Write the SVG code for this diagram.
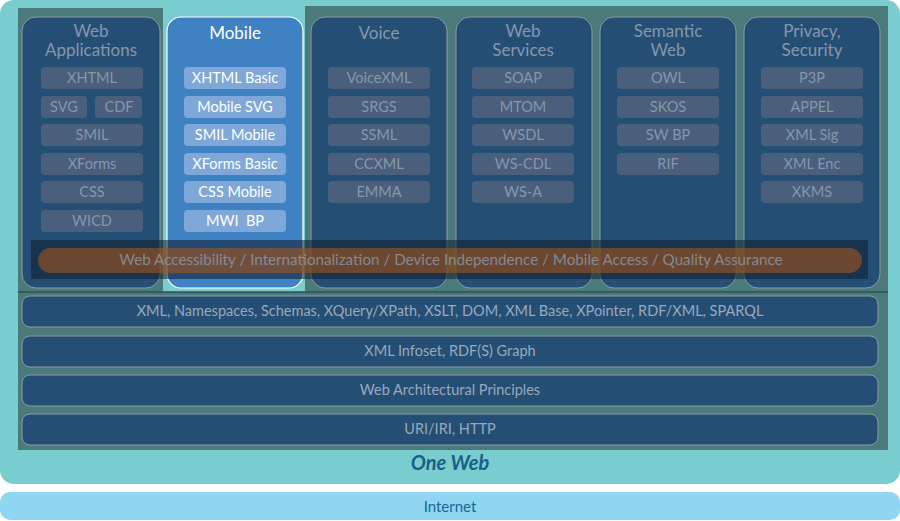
<svg xmlns="http://www.w3.org/2000/svg" width="900" height="521" viewBox="0 0 900 521">
<style>
text{font-family:Lato,"Open Sans","DejaVu Sans",sans-serif;text-anchor:middle}
.col{fill:#254e75;stroke:#8c9ca6;stroke-width:1}
.it{fill:#495f7c}
.it-t{fill:#8597ab;font-size:14.5px}
.mit{fill:#7fa7d8}
.mit-t{fill:#ffffff;font-size:14.5px}
.h{fill:#8597ab;font-size:17px}
.row{fill:#254e75;stroke:#8c9ca6;stroke-width:1}
.row-t{fill:#97a9bd;font-size:14.5px}
</style>
<rect x="0" y="0" width="900" height="484" rx="14" fill="#79cdce"/>
<path d="M18 8H163V292H305V6H888V450H18Z" fill="#4a7b7a"/>
<g id="col-webapps"><rect class="col" x="22" y="17" width="138" height="271" rx="14"/>
<text class="h" x="91" y="37">Web</text><text class="h" x="91" y="56">Applications</text>
<rect class="it" x="41" y="67" width="102" height="22" rx="4"/><text class="it-t" x="92" y="83">XHTML</text>
<rect class="it" x="41" y="96" width="46" height="22" rx="4"/><text class="it-t" x="64" y="112">SVG</text>
<rect class="it" x="95" y="96" width="47" height="22" rx="4"/><text class="it-t" x="119" y="112">CDF</text>
<rect class="it" x="41" y="124" width="102" height="22" rx="4"/><text class="it-t" x="92" y="140">SMIL</text>
<rect class="it" x="41" y="153" width="102" height="22" rx="4"/><text class="it-t" x="92" y="169">XForms</text>
<rect class="it" x="41" y="181" width="102" height="22" rx="4"/><text class="it-t" x="92" y="197">CSS</text>
<rect class="it" x="41" y="210" width="102" height="22" rx="4"/><text class="it-t" x="92" y="226">WICD</text></g>
<g id="col-mobile"><rect x="167" y="17" width="136" height="271" rx="14" fill="#3f82c3" stroke="#ffffff" stroke-width="1.2"/>
<text x="235" y="39" fill="#fff" font-size="17">Mobile</text>
<rect class="mit" x="184" y="67" width="102" height="22" rx="4"/><text class="mit-t" x="235" y="83">XHTML Basic</text>
<rect class="mit" x="184" y="96" width="102" height="22" rx="4"/><text class="mit-t" x="235" y="112">Mobile SVG</text>
<rect class="mit" x="184" y="124" width="102" height="22" rx="4"/><text class="mit-t" x="235" y="140">SMIL Mobile</text>
<rect class="mit" x="184" y="153" width="102" height="22" rx="4"/><text class="mit-t" x="235" y="169">XForms Basic</text>
<rect class="mit" x="184" y="181" width="102" height="22" rx="4"/><text class="mit-t" x="235" y="197">CSS Mobile</text>
<rect class="mit" x="184" y="210" width="102" height="22" rx="4"/><text class="mit-t" x="235" y="226" xml:space="preserve">MWI  BP</text></g>
<g id="col-voice"><rect class="col" x="311" y="17" width="136" height="271" rx="14"/>
<text class="h" x="379" y="39">Voice</text>
<rect class="it" x="328" y="67" width="102" height="22" rx="4"/><text class="it-t" x="379" y="83">VoiceXML</text>
<rect class="it" x="328" y="96" width="102" height="22" rx="4"/><text class="it-t" x="379" y="112">SRGS</text>
<rect class="it" x="328" y="124" width="102" height="22" rx="4"/><text class="it-t" x="379" y="140">SSML</text>
<rect class="it" x="328" y="153" width="102" height="22" rx="4"/><text class="it-t" x="379" y="169">CCXML</text>
<rect class="it" x="328" y="181" width="102" height="22" rx="4"/><text class="it-t" x="379" y="197">EMMA</text></g>
<g id="col-ws"><rect class="col" x="456" y="17" width="136" height="271" rx="14"/>
<text class="h" x="523" y="37">Web</text><text class="h" x="523" y="56">Services</text>
<rect class="it" x="472" y="67" width="102" height="22" rx="4"/><text class="it-t" x="523" y="83">SOAP</text>
<rect class="it" x="472" y="96" width="102" height="22" rx="4"/><text class="it-t" x="523" y="112">MTOM</text>
<rect class="it" x="472" y="124" width="102" height="22" rx="4"/><text class="it-t" x="523" y="140">WSDL</text>
<rect class="it" x="472" y="153" width="102" height="22" rx="4"/><text class="it-t" x="523" y="169">WS-CDL</text>
<rect class="it" x="472" y="181" width="102" height="22" rx="4"/><text class="it-t" x="523" y="197">WS-A</text></g>
<g id="col-sw"><rect class="col" x="600" y="17" width="136" height="271" rx="14"/>
<text class="h" x="668" y="37">Semantic</text><text class="h" x="668" y="56">Web</text>
<rect class="it" x="617" y="67" width="102" height="22" rx="4"/><text class="it-t" x="668" y="83">OWL</text>
<rect class="it" x="617" y="96" width="102" height="22" rx="4"/><text class="it-t" x="668" y="112">SKOS</text>
<rect class="it" x="617" y="124" width="102" height="22" rx="4"/><text class="it-t" x="668" y="140">SW BP</text>
<rect class="it" x="617" y="153" width="102" height="22" rx="4"/><text class="it-t" x="668" y="169">RIF</text></g>
<g id="col-priv"><rect class="col" x="744" y="17" width="136" height="271" rx="14"/>
<text class="h" x="812" y="37">Privacy,</text><text class="h" x="812" y="56">Security</text>
<rect class="it" x="761" y="67" width="102" height="22" rx="4"/><text class="it-t" x="812" y="83">P3P</text>
<rect class="it" x="761" y="96" width="102" height="22" rx="4"/><text class="it-t" x="812" y="112">APPEL</text>
<rect class="it" x="761" y="124" width="102" height="22" rx="4"/><text class="it-t" x="812" y="140">XML Sig</text>
<rect class="it" x="761" y="153" width="102" height="22" rx="4"/><text class="it-t" x="812" y="169">XML Enc</text>
<rect class="it" x="761" y="181" width="102" height="22" rx="4"/><text class="it-t" x="812" y="197">XKMS</text></g>
<g id="band">
<rect x="31" y="240" width="837" height="39" fill="#0e1d2e" opacity="0.55"/>
<rect x="38" y="248" width="824" height="25" rx="12.5" fill="#a3551a" opacity="0.6"/>
<text x="451" y="265" fill="#8a9bb0" fill-opacity="0.8" font-size="15.2">Web Accessibility / Internationalization / Device Independence / Mobile Access / Quality Assurance</text></g>
<line x1="18" y1="292" x2="888" y2="292" stroke="#2d4f57" stroke-width="1.5"/>
<g id="row1"><rect class="row" x="22" y="296" width="856" height="31" rx="8"/><text class="row-t" x="450" y="316">XML, Namespaces, Schemas, XQuery/XPath, XSLT, DOM, XML Base, XPointer, RDF/XML, SPARQL</text></g>
<g id="row2"><rect class="row" x="22" y="336" width="856" height="31" rx="8"/><text class="row-t" x="450" y="356">XML Infoset, RDF(S) Graph</text></g>
<g id="row3"><rect class="row" x="22" y="375" width="856" height="31" rx="8"/><text class="row-t" x="450" y="395">Web Architectural Principles</text></g>
<g id="row4"><rect class="row" x="22" y="414" width="856" height="31" rx="8"/><text class="row-t" x="450" y="434">URI/IRI, HTTP</text></g>
<text x="450" y="470" fill="#1a5f8a" font-size="20" font-weight="bold" font-style="italic">One Web</text>
<g id="internet"><rect x="0" y="492" width="900" height="28" rx="10" fill="#8ed6f2"/><text x="450" y="512" fill="#1d6596" font-size="15">Internet</text></g>
</svg>
